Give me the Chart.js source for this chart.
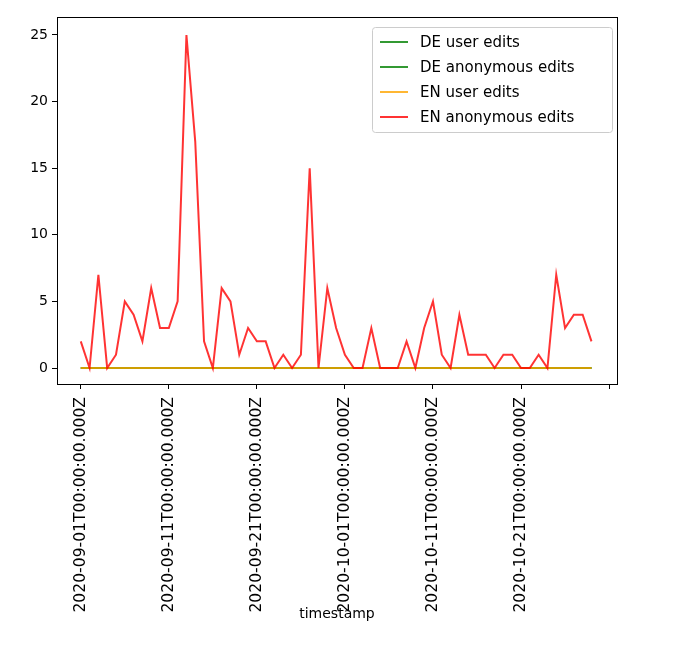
<!DOCTYPE html>
<html><head><meta charset="utf-8">
<script src="https://cdn.jsdelivr.net/npm/chart.js@4"></script>
<style>html,body{margin:0;padding:0;background:#fff}#wrap{width:676px;height:666px}</style>
</head><body><div id="wrap"><canvas id="c" width="676" height="666"></canvas></div>
<script>
const startDate = '2020-09-01';
const dayIndex = [...Array(59).keys()];
const deUser = Array(59).fill(0);
const deAnon = Array(59).fill(0);
const enUser = Array(59).fill(0);
const enAnon = [2,0,7,0,1,5,4,2,6,3,3,5,25,17,2,0,6,5,1,3,2,2,0,1,0,1,15,0,6,3,1,0,0,3,0,0,0,2,0,3,5,1,0,4,1,1,1,0,1,1,0,0,1,0,7,3,4,4,2];
const yTicks = [0,5,10,15,20,25];
const xTickIdx = [0,10,20,30,40,50,60];
const names = ['DE user edits','DE anonymous edits','EN user edits','EN anonymous edits'];
const colors = ['rgba(0,128,0,0.8)','rgba(0,128,0,0.8)','rgba(255,165,0,0.8)','rgba(255,0,0,0.8)'];
const series = [deUser, deAnon, enUser, enAnon];
function lbl(i){const d=new Date(Date.UTC(2020,8,1+i));return d.toISOString();}
const font = {family:'DejaVu Sans', size:14};
const xfont = {family:'DejaVu Sans', size:15.6};
const frame = {id:'frame', afterDraw(ch){const a=ch.chartArea,c=ch.ctx;c.save();c.strokeStyle='#000';c.lineWidth=1;c.strokeRect(Math.round(a.left)+0.5,Math.round(a.top)+0.5,Math.round(a.width),Math.round(a.height));
 const x0=372,y0=27,w=240,h=105;c.fillStyle='rgba(255,255,255,0.8)';c.strokeStyle='#ccc';c.beginPath();c.roundRect(x0+0.5,y0+0.5,w,h,3);c.fill();c.stroke();
 c.font='15px DejaVu Sans';c.textBaseline='middle';
 names.forEach((n,i)=>{const y=y0+15+i*25;c.strokeStyle=colors[i];c.lineWidth=2;c.beginPath();c.moveTo(x0+8,y);c.lineTo(x0+36,y);c.stroke();c.fillStyle='#000';c.fillText(n,x0+48,y+1);});
 c.restore();}};
new Chart(document.getElementById('c'),{
 type:'line',
 data:{datasets:series.map((s,i)=>({label:names[i],order:3-i,data:s.map((v,j)=>({x:dayIndex[j],y:v})),borderColor:colors[i],borderWidth:2,pointRadius:0,fill:false,tension:0}))},
 options:{responsive:false,animation:false,
  layout:{padding:{left:0,right:59,top:17,bottom:43}},
  plugins:{legend:{display:false},tooltip:{enabled:false}},
  scales:{
   x:{type:'linear',min:-2.7,max:60.9,
     afterBuildTicks(s){s.ticks=xTickIdx.map(v=>({value:v}));},
     afterFit(s){s.height=239;},
     grid:{drawOnChartArea:false,tickLength:5,color:'#000'},border:{color:'#000'},
     ticks:{autoSkip:false,maxRotation:90,minRotation:90,color:'#000',font:xfont,padding:8,callback:v=>v<=58?lbl(v):''},
     title:{display:true,text:'timestamp',color:'#000',font:font,padding:0}},
   y:{min:-1.2,max:26.35,
     afterBuildTicks(s){s.ticks=yTicks.map(v=>({value:v}));},
     afterFit(s){s.width=57;},
     grid:{drawOnChartArea:false,tickLength:5,color:'#000'},border:{color:'#000'},
     ticks:{color:'#000',font:font,padding:4}}
  }},
 plugins:[frame]});
</script></body></html>
